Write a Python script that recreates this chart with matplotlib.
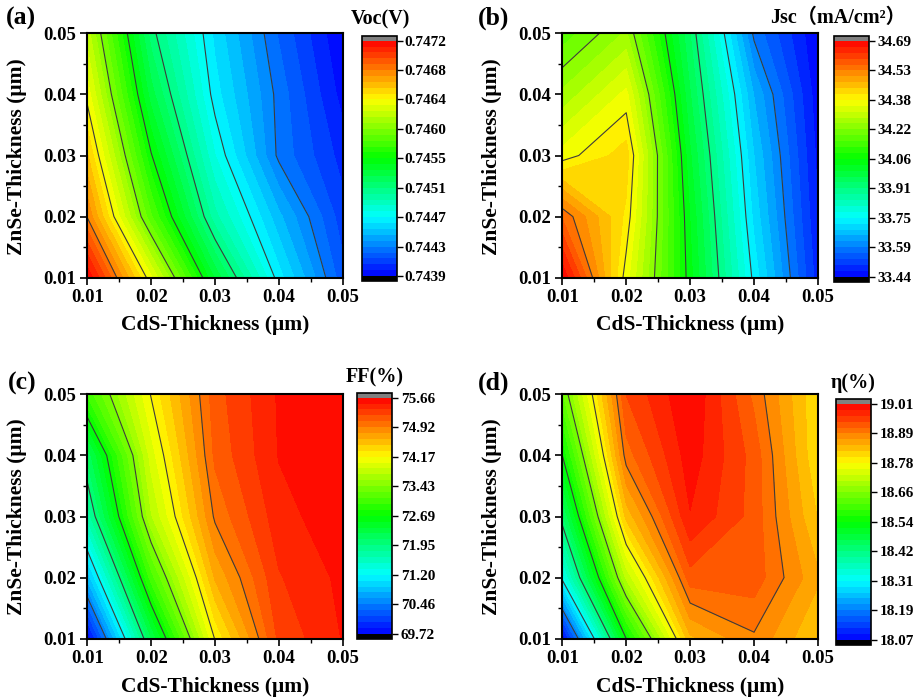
import numpy as np
import matplotlib
matplotlib.use("Agg")
import matplotlib.pyplot as plt
from matplotlib.colors import LinearSegmentedColormap

plt.rcParams['font.family'] = ['Liberation Serif', 'Noto Sans CJK SC', 'DejaVu Sans']
plt.rcParams['font.weight'] = 'bold'

# ---------------- data ----------------
cds = [0.01, 0.02, 0.03, 0.04, 0.05]    # x: CdS thickness (um)
znse = [0.01, 0.02, 0.03, 0.04, 0.05]   # y: ZnSe thickness (um)

# rows = ZnSe (0.01 -> 0.05), columns = CdS (0.01 -> 0.05)
voc = [
    [0.74720, 0.74631, 0.74537, 0.74468, 0.74418],
    [0.74678, 0.74581, 0.74500, 0.74450, 0.74410],
    [0.74655, 0.74556, 0.74481, 0.74429, 0.74403],
    [0.74634, 0.74534, 0.74468, 0.74428, 0.74395],
    [0.74617, 0.74518, 0.74462, 0.74422, 0.74390],
]
jsc = [
    [34.69, 34.36, 34.044, 33.74, 33.484],
    [34.56, 34.40, 34.031, 33.71, 33.47],
    [34.36, 34.426, 34.006, 33.688, 33.46],
    [34.26, 34.356, 33.972, 33.655, 33.45],
    [34.17, 34.257, 33.939, 33.586, 33.438],
]
ff = [
    [69.72, 72.23, 74.19, 75.25, 75.52],
    [70.81, 73.06, 74.64, 75.35, 75.55],
    [71.70, 73.71, 74.95, 75.45, 75.62],
    [72.14, 73.95, 75.10, 75.52, 75.64],
    [73.02, 74.19, 75.15, 75.53, 75.66],
]
eta = [
    [18.07, 18.54, 18.84, 18.888, 18.82],
    [18.315, 18.71, 18.93, 18.93, 18.85],
    [18.44, 18.83, 18.985, 18.93, 18.82],
    [18.54, 18.905, 19.00, 18.93, 18.80],
    [18.63, 18.94, 19.01, 18.91, 18.80],
]

ranges = [(0.74390, 0.74720), (33.438, 34.690), (69.72, 75.66), (18.07, 19.01)]
cbar_labels = [
    ['0.7439', '0.7443', '0.7447', '0.7451', '0.7455', '0.7460', '0.7464', '0.7468', '0.7472'],
    ['33.44', '33.59', '33.75', '33.91', '34.06', '34.22', '34.38', '34.53', '34.69'],
    ['69.72', '70.46', '71.20', '71.95', '72.69', '73.43', '74.17', '74.92', '75.66'],
    ['18.07', '18.19', '18.31', '18.42', '18.54', '18.66', '18.78', '18.89', '19.01'],
]
titles = ['Voc(V)', 'Jsc（mA/cm²）', 'FF(%)', 'η(%)']
panel_tags = ['(a)', '(b)', '(c)', '(d)']
axis_ticks = ['0.01', '0.02', '0.03', '0.04', '0.05']
xlabel = 'CdS-Thickness (μm)'
ylabel = 'ZnSe-Thickness (μm)'

# ---------------- style ----------------
W, H = 916, 698
fig = plt.figure(figsize=(W / 100, H / 100), dpi=100)

def box(x0, y0, x1, y1):
    return [x0 / W, 1 - y1 / H, (x1 - x0) / W, (y1 - y0) / H]

ax_boxes = [box(87.3, 33.3, 342.7, 277.7), box(562.3, 33.3, 818, 277.7),
            box(87.3, 394.3, 342.7, 638.7), box(562.3, 394.3, 818, 638.7)]
cax_boxes = [box(362, 35.7, 396.5, 281), box(833.7, 36, 868.7, 281.7),
             box(357.3, 392.7, 392.3, 638.7), box(836.3, 399, 871.3, 644.7)]
title_pos = [(380, 19), (838, 18), (375, 377), (853, 383)]
tag_pos = [(21, 18), (494, 18), (22, 383), (494, 383)]
xlab_pos = [(215, 325), (690, 325), (215, 687), (690, 687)]
ylab_pos = [(17, 157), (492, 157), (17, 517), (492, 517)]

cmap = LinearSegmentedColormap.from_list(
    'origin_rainbow', ['#0000ff', '#00ffff', '#00ff00', '#ffff00', '#ff0000'])
cmap.set_under('black')
cmap.set_over('#808080')

X, Y = np.meshgrid(cds, znse)
datasets = [voc, jsc, ff, eta]

for i in range(4):
    Z = np.array(datasets[i])
    lo, hi = ranges[i]
    levels = np.linspace(lo, hi, 41)
    levels[0] = lo - (hi - lo) * 1e-6
    ax = fig.add_axes(ax_boxes[i])
    cs = ax.contourf(X, Y, Z, levels=levels, cmap=cmap, extend='both')
    line_levels = np.linspace(lo, hi, 9)[1:-1]
    ax.contour(X, Y, Z, levels=line_levels, colors='#3c3c3c', linewidths=0.8)
    ax.set_xlim(0.01, 0.05)
    ax.set_ylim(0.01, 0.05)
    ax.set_xticks(cds)
    ax.set_yticks(znse)
    ax.set_xticklabels(axis_ticks, fontsize=13.5, fontweight='bold')
    ax.set_yticklabels(axis_ticks, fontsize=13.5, fontweight='bold')
    ax.set_xticks([0.015, 0.025, 0.035, 0.045], minor=True)
    ax.set_yticks([0.015, 0.025, 0.035, 0.045], minor=True)
    ax.tick_params(which='major', direction='out', length=5, width=1.2, pad=3)
    ax.tick_params(which='minor', direction='out', length=3, width=1.0)
    for s in ax.spines.values():
        s.set_linewidth(1.5)

    cax = fig.add_axes(cax_boxes[i])
    cb = fig.colorbar(cs, cax=cax, extendrect=True, extendfrac=0.021)
    cb.set_ticks(np.linspace(lo, hi, 9))
    cb.set_ticklabels(cbar_labels[i])
    cb.ax.tick_params(labelsize=11, direction='out', length=4, width=1.0, pad=2)
    for lab in cb.ax.get_yticklabels():
        lab.set_fontweight('bold')
    cb.outline.set_linewidth(1.2)
    cb.ax.minorticks_off()

    fig.text(title_pos[i][0] / W, 1 - title_pos[i][1] / H, titles[i],
             ha='center', va='center', fontsize=14.5, fontweight='bold')
    fig.text(tag_pos[i][0] / W, 1 - tag_pos[i][1] / H, panel_tags[i],
             ha='center', va='center', fontsize=18.5, fontweight='bold')
    fig.text(xlab_pos[i][0] / W, 1 - xlab_pos[i][1] / H, xlabel,
             ha='center', va='center', fontsize=15.5, fontweight='bold')
    fig.text(ylab_pos[i][0] / W, 1 - ylab_pos[i][1] / H, ylabel,
             ha='center', va='center', fontsize=15.5, fontweight='bold', rotation=90)

fig.savefig('out.png', dpi=100)
